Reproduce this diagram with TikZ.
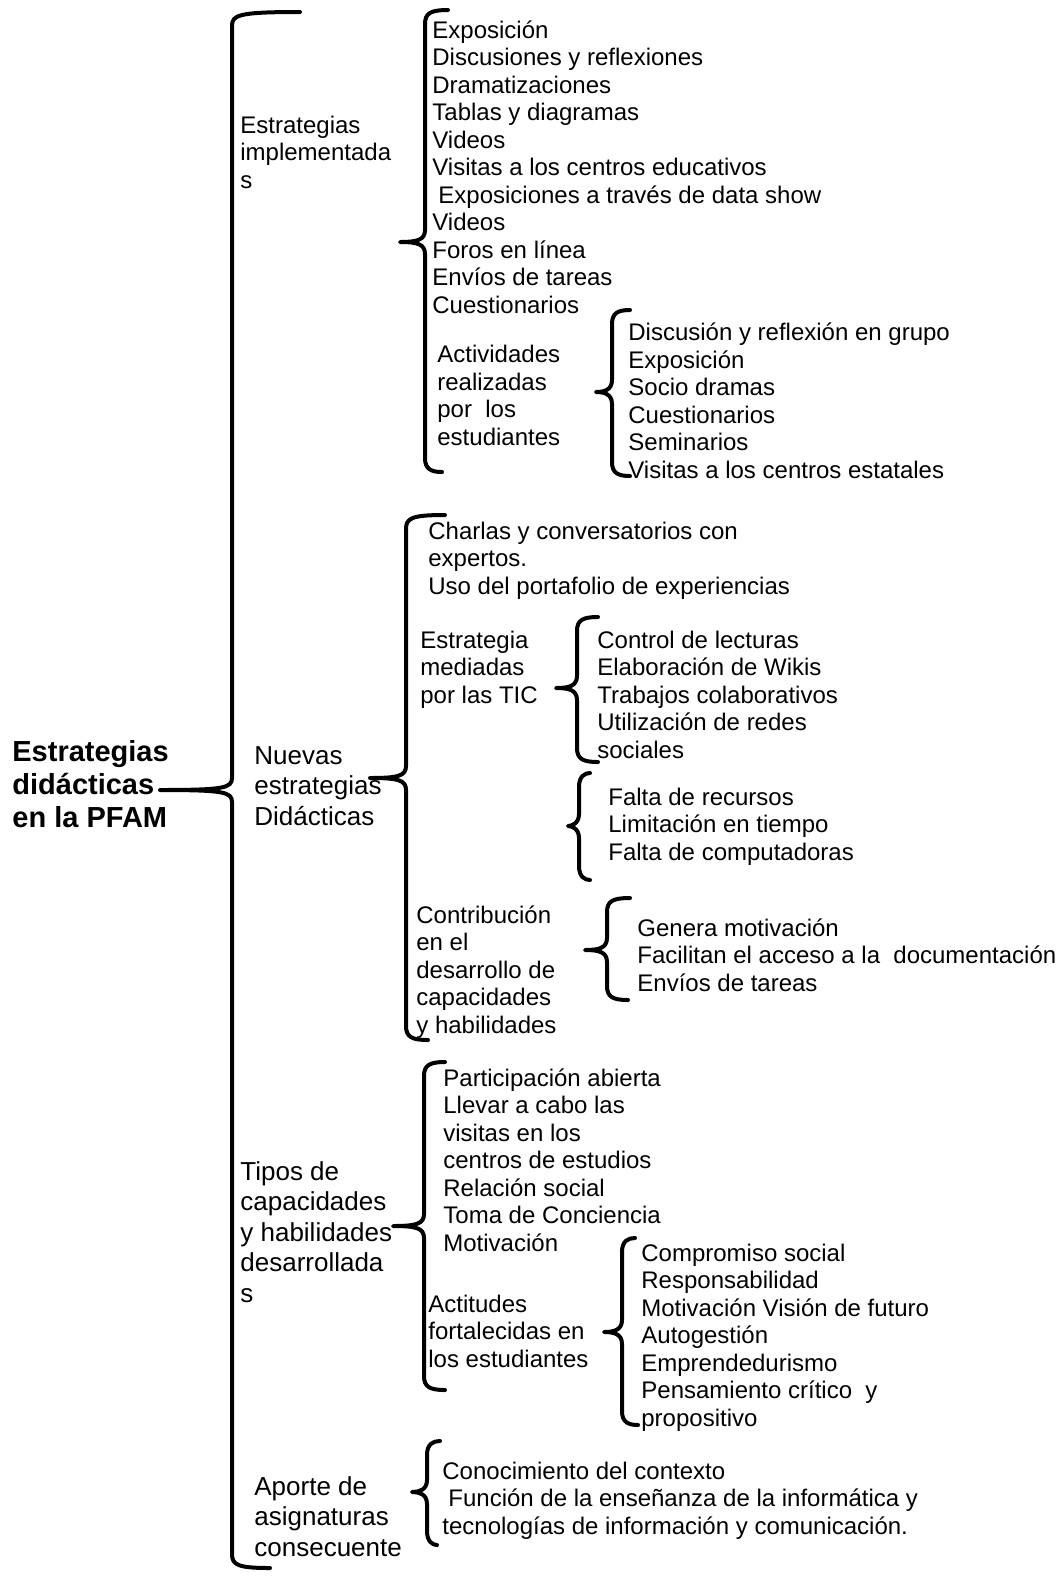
\documentclass[tikz,border=0pt]{standalone}
\usepackage{fontspec}
\setmainfont{Liberation Sans}

\newcommand{\llave}[7]{%
  \draw[llave] (#6,#2) .. controls (#1+6,#2) and (#1,#2+3) .. (#1,#2+14)
    -- (#1,#3-12) .. controls (#1,#3-2) and (#1-8,#3) .. (#5,#3)
    .. controls (#1-8,#3) and (#1,#3+2) .. (#1,#3+12)
    -- (#1,#4-14) .. controls (#1,#4-3) and (#1+6,#4) .. (#7,#4);}

\begin{document}
\begin{tikzpicture}[x=0.5pt,y=-0.5pt,
    llave/.style={line width=2pt,line cap=round,line join=round},
    txt/.style={anchor=base west,inner sep=0pt,align=left,
        font=\fontsize{12}{13.75}\selectfont},
    big/.style={txt,font=\fontsize{13}{15.25}\selectfont}]
        \useasboundingbox (0,0) rectangle (1062,1576);

        \node[txt,font=\fontsize{14.5}{16.5}\selectfont\bfseries] (titulo) at (12,827)
            {Estrategias\\didácticas\\en la PFAM};

        \node[txt] (estrat) at (240,188) {Estrategias\\implementada\\s};
        \node[txt] (estratL) at (432,313) {Exposición\\Discusiones y reflexiones\\
            Dramatizaciones\\Tablas y diagramas\\Videos\\Visitas a los centros educativos\\
            \hspace{3pt}Exposiciones a través de data show\\Videos\\Foros en línea\\
            Envíos de tareas\\Cuestionarios};
        \node[txt] (activ) at (437,445) {Actividades\\realizadas\\por\ \ los\\estudiantes};
        \node[txt] (activL) at (628,478) {Discusión y reflexión en grupo\\Exposición\\
            Socio dramas\\Cuestionarios\\Seminarios\\Visitas a los centros estatales};

        \node[big] (nuevas) at (254,825) {Nuevas\\estrategias\\Didácticas};
        \node[txt] (nuevasL) at (428,594) {Charlas y conversatorios con\\expertos.\\
            Uso del portafolio de experiencias};
        \node[txt] (tic) at (420,703) {Estrategia\\mediadas\\por las TIC};
        \node[txt] (ticL) at (597,758) {Control de lecturas\\Elaboración de Wikis\\
            Trabajos colaborativos\\Utilización de redes\\sociales};
        \node[txt] (faltaL) at (608,860) {Falta de recursos\\Limitación en tiempo\\
            Falta de computadoras};
        \node[txt] (contrib) at (416,1033) {Contribución\\en el\\desarrollo de\\
            capacidades\\y habilidades};
        \node[txt] (contribL) at (637,991) {Genera motivación\\
            Facilitan el acceso a la\ \ documentación\\Envíos de tareas};

        \node[big] (tipos) at (240,1302) {Tipos de\\capacidades\\y habilidades\\
            desarrollada\\s};
        \node[txt] (tiposL) at (443,1251) {Participación abierta\\Llevar a cabo las\\
            visitas en los\\centros de estudios\\Relación social\\Toma de Conciencia\\
            Motivación};
        \node[txt] (actit) at (428,1367) {Actitudes\\fortalecidas en\\los estudiantes};
        \node[txt] (actitL) at (641,1426) {Compromiso social\\Responsabilidad\\
            Motivación Visión de futuro\\Autogestión\\Emprendedurismo\\
            Pensamiento crítico\ \ y\\propositivo};

        \node[big] (aporte) at (254,1556) {Aporte de\\asignaturas\\consecuente};
        \node[txt] (aporteL) at (442,1534) {Conocimiento del contexto\\
            \hspace{3pt}Función de la enseñanza de la informática y\\
            tecnologías de información y comunicación.};

        \llave{232}{12}{790}{1568}{160}{300}{270}
        \llave{425}{10}{242}{472}{400}{448}{442}
        \llave{612}{310}{392}{476}{596}{630}{630}
        \llave{406}{515}{778}{1040}{370}{445}{428}
        \llave{577}{617}{688}{762}{556}{598}{598}
        \llave{579}{773}{826}{880}{568}{590}{590}
        \llave{607}{898}{950}{1000}{585}{630}{628}
        \llave{424}{1062}{1226}{1390}{393}{445}{445}
        \llave{622}{1238}{1332}{1425}{604}{635}{638}
        \llave{427}{1441}{1492}{1545}{412}{440}{437}
    \end{tikzpicture}
\end{document}
